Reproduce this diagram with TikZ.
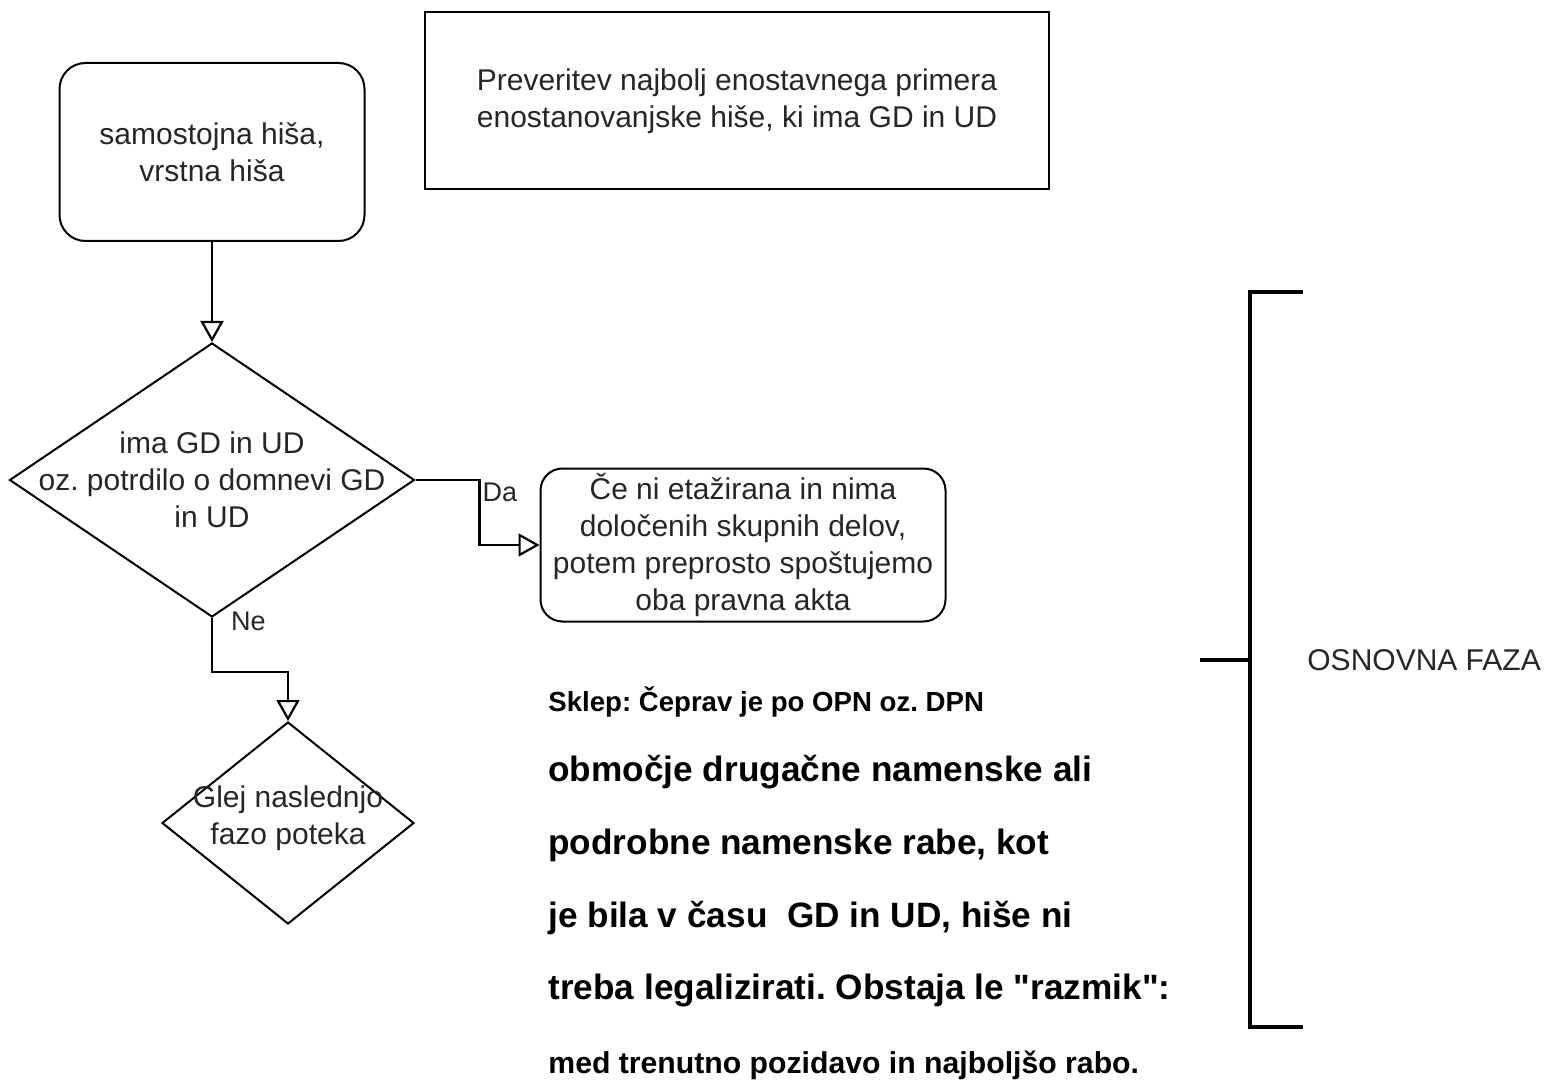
\documentclass[tikz,border=0pt]{standalone}
\usepackage{fontspec}
\setmainfont{Liberation Sans}[Ligatures=TeXOff]
\frenchspacing
\usetikzlibrary{shapes.geometric, arrows.meta}
\tikzstyle{txt} = [font=\fontsize{15}{18.5}\selectfont, text=black!85]
\tikzstyle{start} = [rectangle, rounded corners=13pt, minimum width=152.5pt, minimum height=89pt, align=center, draw=black, line width=1pt, txt]
\tikzstyle{note} = [rectangle, minimum width=312pt, minimum height=88.5pt, align=center, draw=black, line width=1pt, txt]
\tikzstyle{decision} = [diamond, inner sep=0pt, draw=black, line width=1pt]
\tikzstyle{result} = [rectangle, rounded corners=11pt, minimum width=202.5pt, minimum height=76.5pt, align=center, inner sep=2pt, draw=black, line width=1pt, txt]
\tikzstyle{flow} = [line width=1.1pt, -{Triangle[open, length=10.5pt, width=11.5pt]}]
\tikzstyle{tag} = [font=\fontsize{13.5}{16}\selectfont, text=black!85, inner sep=1pt]
\tikzstyle{bracket} = [line width=2pt]
\begin{document}
\begin{tikzpicture}[x=0.5pt, y=-0.5pt]
		\useasboundingbox (0,0) rectangle (1544,1081);
		% flowchart
		\node (house)[start] at (212,152) {samostojna hiša,\\vrstna hiša};
		\node (goal)[note] at (737,101) {Preveritev najbolj enostavnega primera\\enostanovanjske hiše, ki ima GD in UD};
		\node (check)[decision, minimum width=202.5pt, minimum height=137pt, label={[txt, align=center]center:{ima GD in UD\\oz. potrdilo o domnevi GD\\in UD}}] at (212,480) {};
		\node (etaz)[result] at (743,545) {Če ni etažirana in nima\\določenih skupnih delov,\\potem preprosto spoštujemo\\oba pravna akta};
		\node (next)[decision, minimum width=126pt, minimum height=101pt, label={[txt, align=center, yshift=2.5pt]center:{Glej naslednjo\\fazo poteka}}] at (288,823) {};
		\draw [flow] (house) -- (check);
		\draw [flow] (check.east) -- ++(64,0) node[tag, below right] {Da} |- (etaz.west);
		\draw [flow] (check.south) -- node[tag, pos=0, anchor=west, xshift=8pt, yshift=-1.5pt] {Ne} ++(0,54) -| (next.north);
		% conclusion
		\node (sklep)[anchor=west, inner sep=0pt, font=\fontsize{13.8}{16}\selectfont\bfseries] at (548,702) {Sklep: Čeprav je po OPN oz. DPN};
		\foreach \y/\txt in {772/{območje drugačne namenske ali}, 845/{podrobne namenske rabe, kot}, 918/{je bila v času~ GD in UD, hiše ni}, 990/{treba legalizirati. Obstaja le "razmik":}}
			\node (line\y)[anchor=west, inner sep=0pt, font=\fontsize{17.6}{20}\selectfont\bfseries] at (548,\y) {\txt};
		\node (gap)[anchor=west, inner sep=0pt, font=\fontsize{15.1}{18}\selectfont\bfseries] at (548,1065) {med trenutno pozidavo in najboljšo rabo.};
		% phase bracket
		\draw [bracket] (1303,292) -- (1250,292) -- (1250,1027) -- (1303,1027);
		\draw [bracket] (1200,660) -- (1250,660);
		\node (phase)[txt, anchor=west, inner sep=0pt] at (1307,660) {OSNOVNA FAZA};
	\end{tikzpicture}
\end{document}
